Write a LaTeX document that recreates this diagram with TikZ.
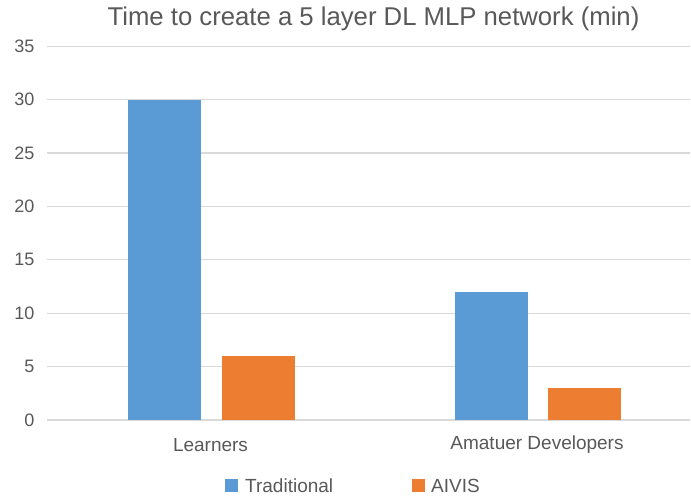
\documentclass[tikz,border=0pt]{standalone}
\usepackage{fontspec}
\setmainfont{Liberation Sans}
\definecolor{tblue}{HTML}{5B9BD5}
\definecolor{torange}{HTML}{ED7D31}
\definecolor{gridc}{HTML}{D9D9D9}
\definecolor{txt}{HTML}{595959}
\tikzset{
  grid line/.style={draw=gridc, line width=1.1pt},
  tick/.style={anchor=east, inner sep=0pt, text=txt, font=\fontsize{18}{20}\selectfont},
  cat/.style={inner sep=0pt, text=txt, font=\fontsize{19}{21}\selectfont},
  bar/.style={anchor=south, inner sep=0pt, outer sep=0pt, minimum width=73pt},
  legsq/.style={inner sep=0pt, minimum size=13pt},
  legtxt/.style={anchor=west, inner sep=0pt, text=txt, font=\fontsize{19}{21}\selectfont},
}
\begin{document}
\begin{tikzpicture}[x=1pt,y=-1pt]
\useasboundingbox[fill=white] (0,0) rectangle (691,498);
\node[text=txt, font=\fontsize{25.7}{28}\selectfont, inner sep=0pt] (title) at (373.5,19) {Time to create a 5 layer DL MLP network (min)};
\foreach \v in {0,5,...,35} {
  \draw[grid line] (47,{420-10.68*\v}) -- (690,{420-10.68*\v});
  \node[tick] (t\v) at (34.5,{420-10.68*\v}) {\v};
}
\node[bar, fill=tblue, minimum height=320.4pt] (lt) at (164.5,420) {};
\node[bar, fill=torange, minimum height=64.1pt] (la) at (258,420) {};
\node[bar, fill=tblue, minimum height=128.2pt] (at) at (491.5,420) {};
\node[bar, fill=torange, minimum height=32pt] (aa) at (584.5,420) {};
\node[cat] (learners) at (210.5,445) {Learners};
\node[cat] (amatuer) at (537,445) {Amatuer Developers};
\node[legsq, fill=tblue] (lg1) at (231.5,485.5) {};
\node[legtxt] (lg1t) at (245,486) {Traditional};
\node[legsq, fill=torange] (lg2) at (418,485.5) {};
\node[legtxt] (lg2t) at (431,486) {AIVIS};
\end{tikzpicture}
\end{document}
